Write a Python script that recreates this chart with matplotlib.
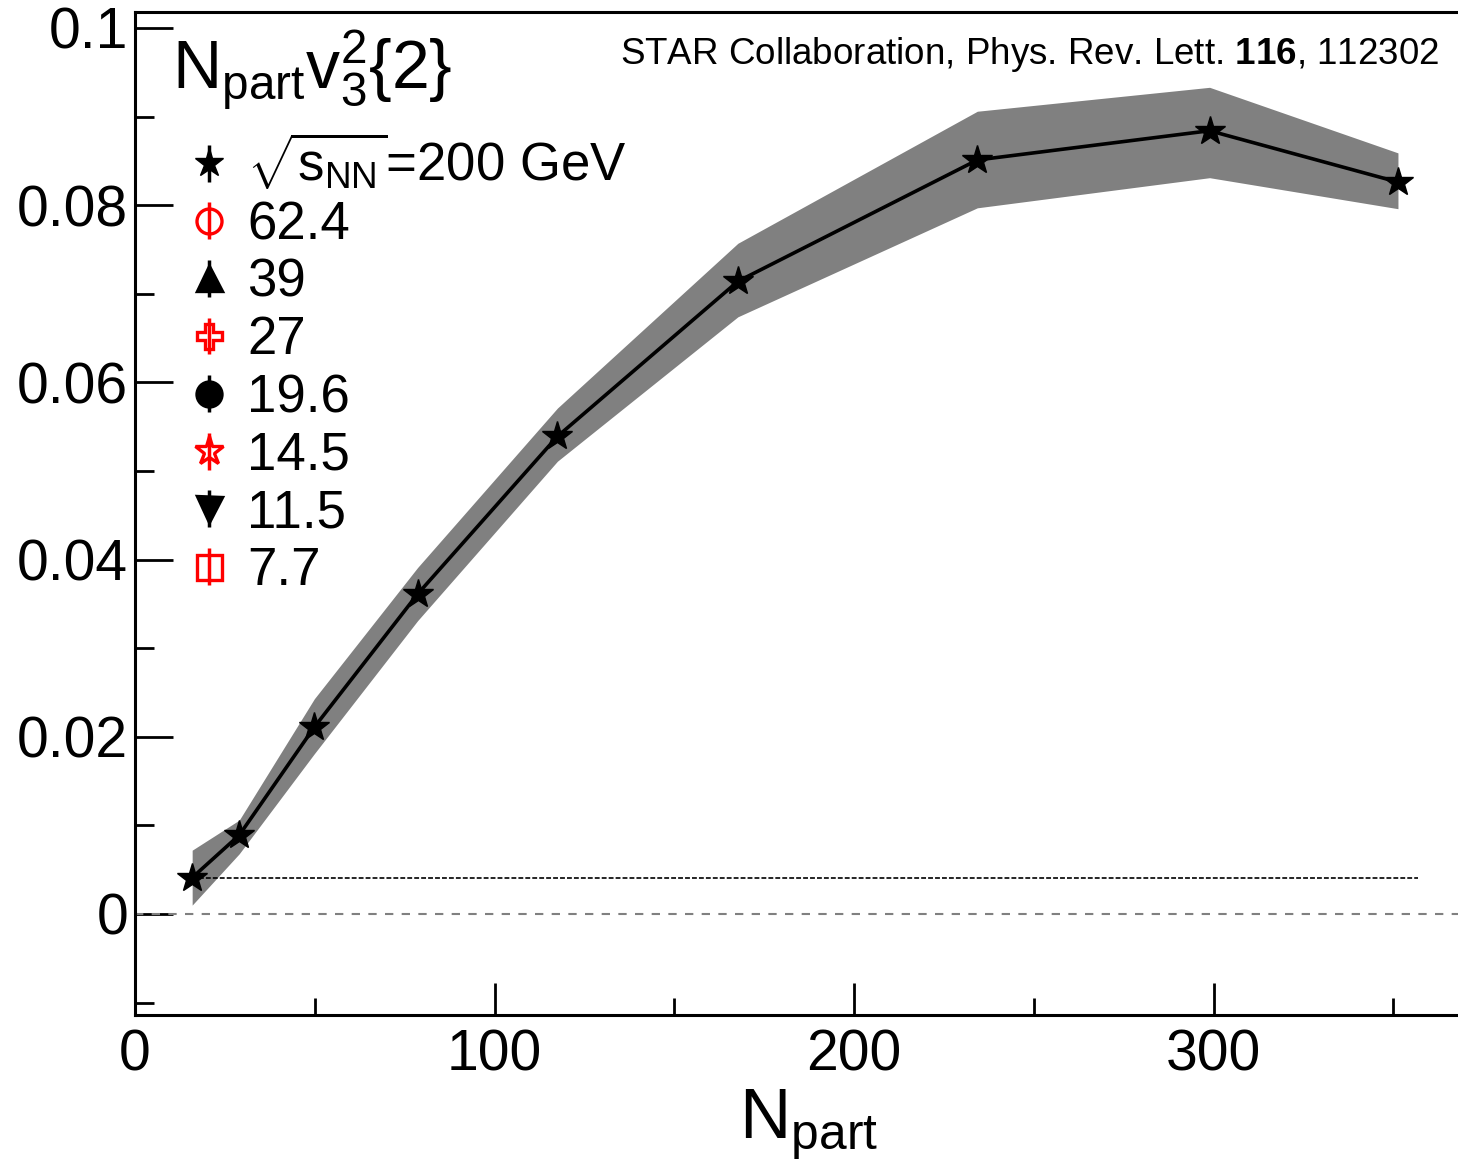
import numpy as np
import matplotlib
matplotlib.use('Agg')
import matplotlib.pyplot as plt
from matplotlib.container import ErrorbarContainer
from matplotlib.legend_handler import HandlerErrorbar

plt.rcParams['font.family'] = ['Liberation Sans', 'DejaVu Sans']
plt.rcParams['mathtext.fontset'] = 'custom'
plt.rcParams['mathtext.rm'] = 'Liberation Sans'
plt.rcParams['mathtext.it'] = 'Liberation Sans:italic'
plt.rcParams['mathtext.bf'] = 'Liberation Sans:bold'
plt.rcParams['lines.scale_dashes'] = False

# STAR 200 GeV, Npart * v3^2{2}
npart = [15.9, 29.0, 49.9, 78.6, 117.5, 167.7, 234.3, 298.9, 351.3]
v32 = [0.0041, 0.0089, 0.0211, 0.0361, 0.0539, 0.0714, 0.0851, 0.0884, 0.0826]
band_hi = [0.0072, 0.0106, 0.0243, 0.0391, 0.0571, 0.0757, 0.0906, 0.0933, 0.0859]
band_lo = [0.0010, 0.0068, 0.0181, 0.0331, 0.0511, 0.0674, 0.0797, 0.0831, 0.0796]

# dotted reference level
ref_level = 0.0041
ref_x = [15.9, 357]

# legend entries (other energies only in legend)
energies = ['62.4', '39', '27', '19.6', '14.5', '11.5', '7.7']
e_markers = ['o', '^', 'P', 'o', '*', 'v', 's']
e_colors = ['red', 'black', 'red', 'black', 'red', 'black', 'red']
e_filled = [False, True, False, True, False, True, False]

fig = plt.figure(figsize=(14.58, 11.61), dpi=100)
ax = fig.add_axes([135/1458, 1 - 1015/1161, 1 - 135/1458, (1015 - 12)/1161])

ax.fill_between(npart, band_lo, band_hi, color='#808080', lw=0, zorder=1)
ax.axhline(0, color='#808080', lw=1.5, dashes=[6, 6], zorder=2)
ax.plot(ref_x, [ref_level, ref_level], color='black', lw=1.2, dashes=[3.5, 1.5], zorder=2)
ax.plot(npart, v32, '-*', color='black', lw=2.6, ms=22, zorder=3)

handles = [ax.errorbar([], [], yerr=[], fmt='*', color='black', ms=21, elinewidth=2.5,
                       capsize=0)]
labels = [r'$\sqrt{\mathrm{s_{NN}}}$=200 GeV']
for lab, m, c, f in zip(energies, e_markers, e_colors, e_filled):
    ms = 21 if m == '*' else 18
    h = ax.errorbar([], [], yerr=[], fmt=m, color=c, mfc=c if f else 'none',
                    mec=c, mew=2.4, ms=ms, elinewidth=2.5, capsize=0)
    handles.append(h)
    labels.append(lab)

leg = ax.legend(handles, labels, loc='upper left', bbox_to_anchor=(0.036, 0.881),
                frameon=False, fontsize=38, handlelength=1.0, handletextpad=0.22,
                labelspacing=0.145, borderaxespad=0, borderpad=0,
                handler_map={ErrorbarContainer: HandlerErrorbar(yerr_size=0.35)})

ax.text(0.028, 0.923, r'$\mathrm{N_{part}v_3^2\{2\}}$', transform=ax.transAxes,
        fontsize=49, ha='left', va='baseline')
ax.text(0.986, 0.948, r'STAR Collaboration, Phys. Rev. Lett. $\mathbf{116}$, 112302',
        transform=ax.transAxes, fontsize=26.5, ha='right', va='baseline')

ax.set_xlim(0, 368)
ax.set_ylim(-0.0114, 0.1018)
ax.set_xticks([0, 100, 200, 300])
ax.set_xticks([50, 150, 250, 350], minor=True)
ax.set_yticks([0, 0.02, 0.04, 0.06, 0.08, 0.1])
ax.set_yticks([-0.01, 0.01, 0.03, 0.05, 0.07, 0.09], minor=True)
ax.set_yticklabels(['0', '0.02', '0.04', '0.06', '0.08', '0.1'])
ax.tick_params(which='both', direction='in', top=False, right=False, labelsize=41, width=2)
ax.tick_params(axis='y', which='major', length=27, pad=5)
ax.tick_params(axis='y', which='minor', length=14)
ax.tick_params(axis='x', which='major', length=23, pad=10)
ax.tick_params(axis='x', which='minor', length=12)
for s in ['left', 'bottom', 'top']:
    ax.spines[s].set_linewidth(2.2)
ax.spines['right'].set_visible(False)

ax.set_xlabel(r'$\mathrm{N_{part}}$', fontsize=51, labelpad=3)
ax.xaxis.label.set_x(0.509)

plt.savefig('out.png', dpi=100)
